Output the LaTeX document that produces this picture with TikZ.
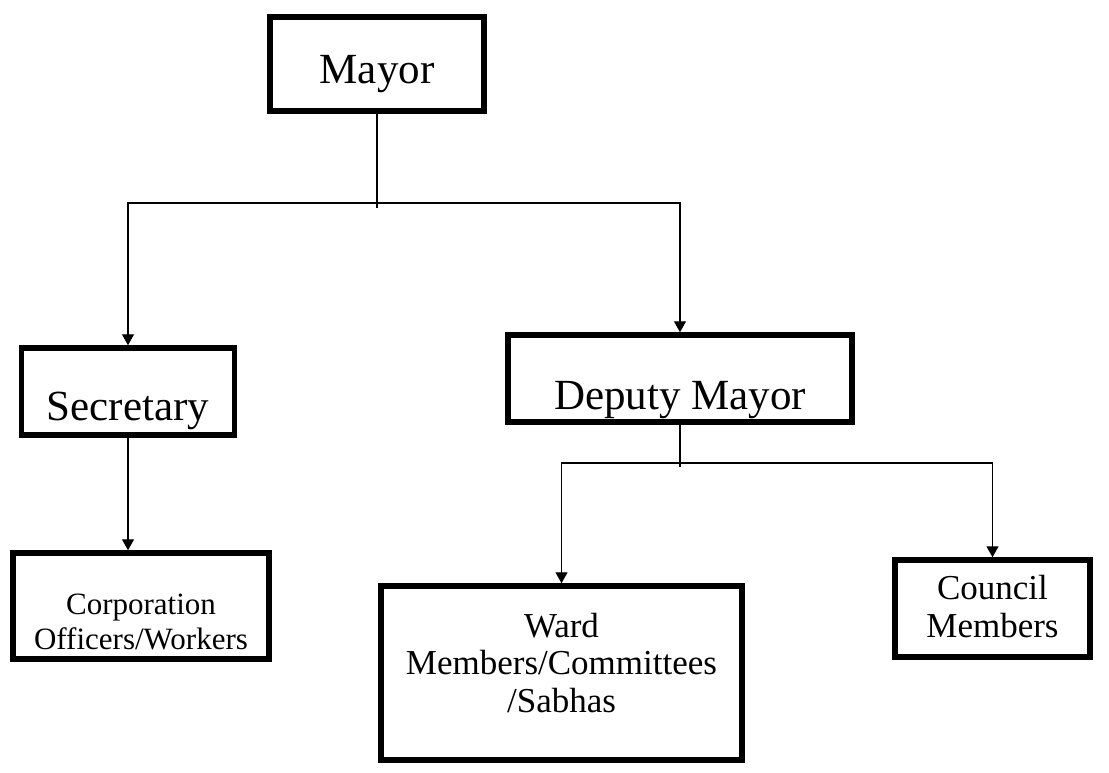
\documentclass[tikz,border=0pt]{standalone}
\usepackage{fontspec}
\setmainfont{Liberation Serif}
\usetikzlibrary{arrows.meta}
\tikzset{
  orgbox/.style={draw=black, line width=5.5pt, rectangle, inner sep=0pt, fill=white},
  bigtxt/.style={font=\fontsize{43}{50}\selectfont},
  smalltxt/.style={font=\fontsize{31}{35}\selectfont, align=center},
  midtxt/.style={font=\fontsize{35}{37.5}\selectfont, align=center},
  conn/.style={line width=1.3pt, draw=black},
  arr/.style={conn, -{Triangle[width=12pt,length=11pt]}}
}
\begin{document}
\begin{tikzpicture}[x=1pt,y=-1pt]
\useasboundingbox[fill=white] (0,0) rectangle (1109,773);
% boxes
\node[orgbox, minimum width=214pt, minimum height=94pt,
      label={[bigtxt, yshift=-10pt]center:Mayor}] (mayor) at (377,64) {};
\node[orgbox, minimum width=213pt, minimum height=87pt,
      label={[bigtxt, yshift=-19pt]center:Secretary}] (sec) at (128,391.5) {};
\node[orgbox, minimum width=344pt, minimum height=87pt,
      label={[bigtxt, yshift=-22pt]center:Deputy Mayor}] (dep) at (680,378.5) {};
\node[orgbox, minimum width=256pt, minimum height=106pt,
      label={[smalltxt, yshift=-16pt]center:Corporation\\Officers/Workers}] (corp) at (141,606) {};
\node[orgbox, minimum width=361pt, minimum height=174pt,
      label={[midtxt, yshift=10pt]center:Ward\\Members/Committees\\/Sabhas}] (ward) at (561.5,673) {};
\node[orgbox, minimum width=195pt, minimum height=97pt,
      label={[midtxt, yshift=2pt]center:Council\\Members}] (council) at (992.5,608.5) {};
% junction points
\coordinate (j1) at (377,203);
\coordinate (j1end) at (377,208);
\coordinate (j2) at (680,463);
\coordinate (j2end) at (680,467);
% connectors
\draw[conn] (mayor.south) -- (j1end);
\draw[arr] (j1) -| (sec.north);
\draw[arr] (j1) -| (dep.north);
\draw[arr] (sec.south) -- (sec.south |- corp.north);
\draw[conn] (dep.south) -- (j2end);
\draw[arr] (j2) -| (ward.north);
\draw[arr] (j2) -| (council.north);
\end{tikzpicture}
\end{document}
